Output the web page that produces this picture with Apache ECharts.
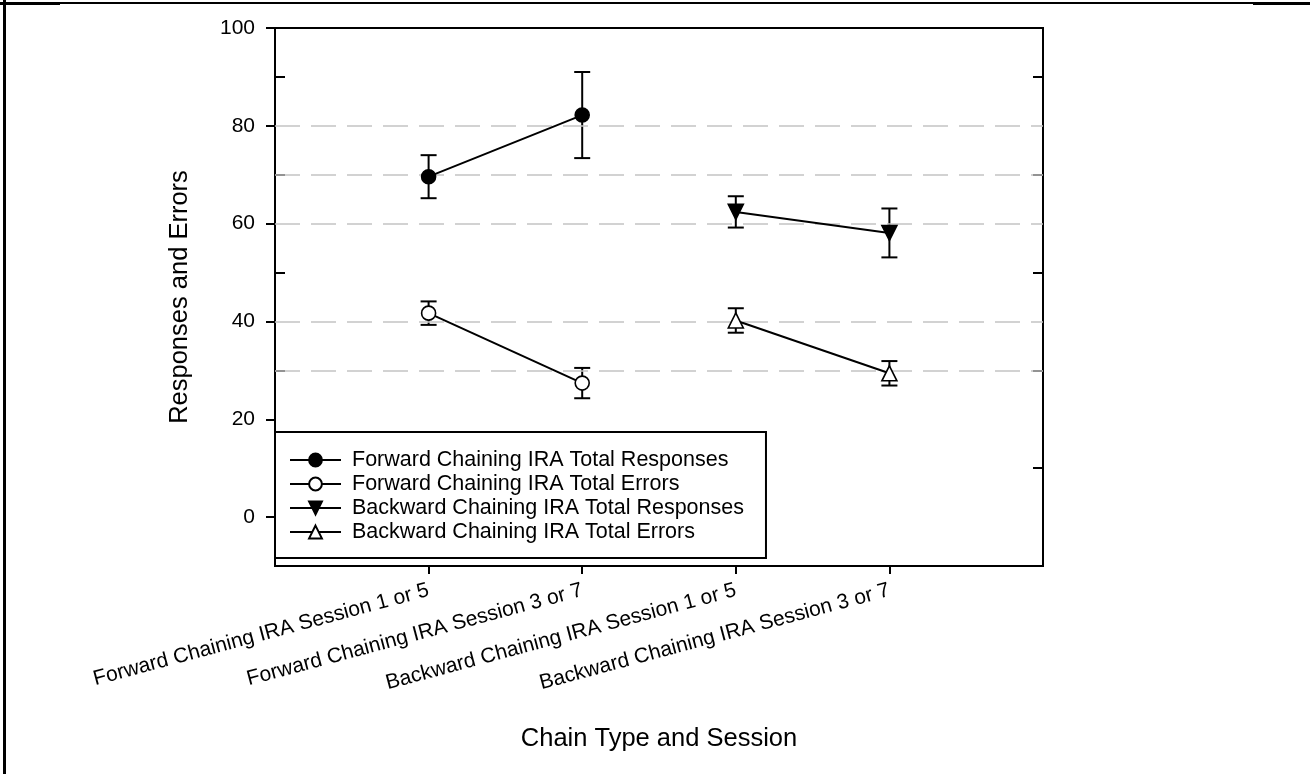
<!DOCTYPE html>
<html>
<head>
<meta charset="utf-8">
<title>Responses and Errors by Chain Type and Session</title>
<script src="https://cdn.jsdelivr.net/npm/echarts@6/dist/echarts.min.js"></script>
<style>
  html, body { margin: 0; padding: 0; background: #ffffff; }
  #chart { width: 1310px; height: 774px; }
</style>
</head>
<body>
<div id="chart"></div>
<script>
// Session categories along the x axis (placed at positions 1..4 on a 0..5 scale)
const categories = [
  'Forward Chaining IRA Session 1 or 5',
  'Forward Chaining IRA Session 3 or 7',
  'Backward Chaining IRA Session 1 or 5',
  'Backward Chaining IRA Session 3 or 7'
];
const categoryPositions = [1, 2, 3, 4];

const seriesNames = [
  'Forward Chaining IRA Total Responses',
  'Forward Chaining IRA Total Errors',
  'Backward Chaining IRA Total Responses',
  'Backward Chaining IRA Total Errors'
];

// Means and error-bar half widths
const fwdPositions = [1, 2];
const bwdPositions = [3, 4];
const fwdResponses = [69.6, 82.2];
const fwdResponsesErr = [4.4, 8.8];
const fwdErrors = [41.7, 27.4];
const fwdErrorsErr = [2.4, 3.1];
const bwdResponses = [62.4, 58.1];
const bwdResponsesErr = [3.2, 5.0];
const bwdErrors = [40.2, 29.4];
const bwdErrorsErr = [2.5, 2.5];

// Dashed horizontal reference lines
const referenceLines = [30, 40, 60, 70, 80];

// Y axis ticks
const yMin = -10, yMax = 100, yStep = 10;
const yMajorTicks = [0, 20, 40, 60, 80, 100];
const yMinorTicks = [10, 30, 50, 70, 90];

const FONT = 'Liberation Sans, Arial, Helvetica, sans-serif';

function pairs(xs, ys) { return xs.map((x, i) => [x, ys[i]]); }
function bars(xs, ys, es) { return xs.map((x, i) => [x, ys[i] - es[i], ys[i] + es[i]]); }

const errorBarData = []
  .concat(bars(fwdPositions, fwdResponses, fwdResponsesErr))
  .concat(bars(fwdPositions, fwdErrors, fwdErrorsErr))
  .concat(bars(bwdPositions, bwdResponses, bwdResponsesErr))
  .concat(bars(bwdPositions, bwdErrors, bwdErrorsErr));

function renderErrorBar(params, api) {
  const x = api.value(0);
  const lo = api.coord([x, api.value(1)]);
  const hi = api.coord([x, api.value(2)]);
  const half = 8;
  const style = { stroke: '#000', lineWidth: 2, fill: null };
  return {
    type: 'group',
    children: [
      { type: 'line', shape: { x1: lo[0], y1: lo[1], x2: hi[0], y2: hi[1] }, style },
      { type: 'line', shape: { x1: hi[0] - half, y1: hi[1], x2: hi[0] + half, y2: hi[1] }, style },
      { type: 'line', shape: { x1: lo[0] - half, y1: lo[1], x2: lo[0] + half, y2: lo[1] }, style }
    ]
  };
}

function lineSeries(name, data, symbol, size, filled, rotate) {
  return {
    name: name,
    type: 'line',
    data: data,
    symbol: symbol,
    symbolSize: size,
    symbolRotate: rotate || 0,
    z: 5,
    lineStyle: { color: '#000', width: 2 },
    itemStyle: {
      color: filled ? '#000' : '#fff',
      borderColor: '#000',
      borderWidth: 1.6
    },
    emphasis: { disabled: true },
    animation: false
  };
}

const chart = echarts.init(document.getElementById('chart'), null, { renderer: 'canvas' });

const option = {
  backgroundColor: '#ffffff',
  animation: false,
  textStyle: { fontFamily: FONT, color: '#000' },
  grid: {
    left: 275, right: 267, top: 28, bottom: 208,
    show: true, borderColor: '#000', borderWidth: 2, backgroundColor: 'transparent'
  },
  legend: {
    orient: 'vertical',
    left: 275,
    top: 432,
    data: seriesNames,
    itemWidth: 51,
    itemHeight: 16,
    itemGap: 2,
    padding: [17, 22, 15, 14],
    borderColor: '#000',
    borderWidth: 2,
    backgroundColor: '#fff',
    selectedMode: false,
    textStyle: { fontFamily: FONT, fontSize: 21.5, color: '#000', padding: [0, 0, 0, 6] }
  },
  xAxis: {
    type: 'value',
    min: 0,
    max: 5,
    interval: 1,
    name: 'Chain Type and Session',
    nameLocation: 'middle',
    nameGap: 160,
    nameTextStyle: { fontFamily: FONT, fontSize: 25.5, color: '#000' },
    axisLine: { show: true, onZero: false, lineStyle: { color: '#000', width: 2 } },
    axisTick: {
      show: true, inside: false, length: 8,
      customValues: categoryPositions,
      lineStyle: { color: '#000', width: 2 }
    },
    axisLabel: {
      show: true,
      customValues: categoryPositions,
      rotate: 15,
      margin: 24,
      fontFamily: FONT,
      fontSize: 21,
      color: '#000',
      formatter: function (v) { return categories[Math.round(v) - 1] || ''; }
    },
    splitLine: { show: false }
  },
  yAxis: [
    {
      type: 'value',
      position: 'left',
      min: yMin, max: yMax, interval: yStep,
      name: 'Responses and Errors',
      nameLocation: 'middle',
      nameGap: 82,
      nameRotate: 90,
      nameTextStyle: { fontFamily: FONT, fontSize: 25.5, color: '#000' },
      axisLine: { show: true, onZero: false, lineStyle: { color: '#000', width: 2 } },
      axisTick: {
        show: true, inside: false, length: 9,
        customValues: yMajorTicks,
        lineStyle: { color: '#000', width: 2 }
      },
      axisLabel: {
        show: true, margin: 20, fontFamily: FONT, fontSize: 21, color: '#000',
        customValues: yMajorTicks
      },
      splitLine: { show: false }
    },
    {
      // minor ticks pointing into the plot on the left side
      type: 'value',
      position: 'left',
      min: yMin, max: yMax, interval: yStep,
      axisLine: { show: false, onZero: false },
      axisTick: {
        show: true, inside: true, length: 10,
        customValues: yMinorTicks,
        lineStyle: { color: '#000', width: 2 }
      },
      axisLabel: { show: false },
      splitLine: { show: false }
    },
    {
      // right side frame with inward minor ticks
      type: 'value',
      position: 'right',
      min: yMin, max: yMax, interval: yStep,
      axisLine: { show: true, onZero: false, lineStyle: { color: '#000', width: 2 } },
      axisTick: {
        show: true, inside: true, length: 10,
        customValues: yMinorTicks,
        lineStyle: { color: '#000', width: 2 }
      },
      axisLabel: { show: false },
      splitLine: { show: false }
    }
  ],
  graphic: [
    // page frame
    { type: 'rect', left: 3, top: 0, shape: { width: 3, height: 774 }, style: { fill: '#000' }, z: 100 },
    { type: 'rect', left: 0, top: 2, shape: { width: 1310, height: 2 }, style: { fill: '#000' }, z: 100 },
    { type: 'rect', left: 0, top: 2, shape: { width: 60, height: 3 }, style: { fill: '#000' }, z: 100 },
    { type: 'rect', left: 1253, top: 2, shape: { width: 57, height: 3 }, style: { fill: '#000' }, z: 100 }
  ],
  series: [
    {
      name: 'error bars',
      type: 'custom',
      renderItem: renderErrorBar,
      data: errorBarData,
      encode: { x: 0, y: [1, 2] },
      z: 3,
      silent: true,
      markLine: {
        silent: true,
        symbol: ['none', 'none'],
        label: { show: false },
        lineStyle: { color: '#c4c4c4', width: 1.5, type: [25, 11] },
        emphasis: { disabled: true },
        data: referenceLines.map(v => ({ yAxis: v }))
      }
    },
    lineSeries(seriesNames[0], pairs(fwdPositions, fwdResponses), 'circle', 14, true, 0),
    lineSeries(seriesNames[1], pairs(fwdPositions, fwdErrors), 'circle', 14, false, 0),
    lineSeries(seriesNames[2], pairs(bwdPositions, bwdResponses), 'triangle', 15, true, 180),
    lineSeries(seriesNames[3], pairs(bwdPositions, bwdErrors), 'triangle', 15, false, 0)
  ]
};

chart.setOption(option);
</script>
</body>
</html>
